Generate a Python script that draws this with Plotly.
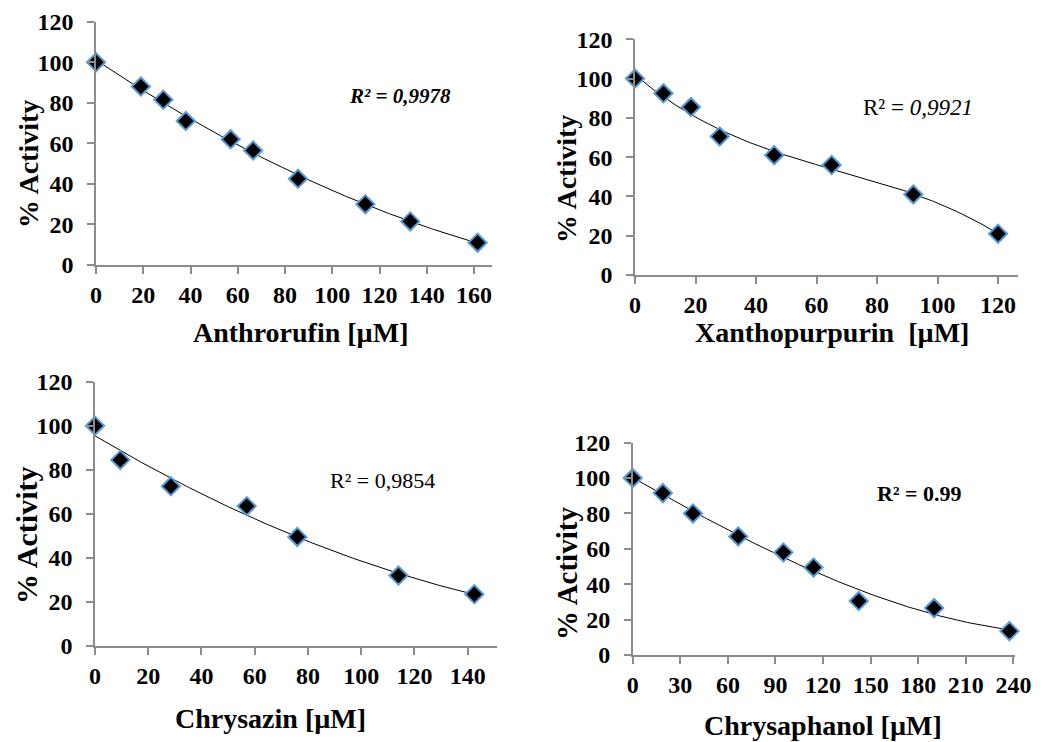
import numpy as np
import plotly.graph_objects as go

# ---- data ----
anthrorufin_x = [0, 19, 28.5, 38, 57, 66.5, 85.5, 114, 133, 161.5]
anthrorufin_y = [100, 88, 81.5, 71, 62, 56.5, 42.5, 30, 21.5, 11]

xanthopurpurin_x = [0, 9.4, 18.5, 28, 46, 65, 92, 120]
xanthopurpurin_y = [100, 92.5, 85.5, 70.5, 61, 56, 41, 21]

chrysazin_x = [0, 9.5, 28.5, 57, 76, 114, 142.5]
chrysazin_y = [100, 84.5, 72.5, 63.5, 49.5, 32, 23.5]

chrysaphanol_x = [0, 19, 38, 66.5, 95, 114, 142.5, 190, 237.5]
chrysaphanol_y = [100, 91.5, 80, 67, 58, 49.5, 30.5, 26.5, 13.5]

panel_names = ["Anthrorufin [µM]", "Xanthopurpurin\u00a0\u00a0[µM]", "Chrysazin [µM]", "Chrysaphanol [µM]"]
r2_labels = ["<b><i>R² = 0,9978</i></b>", "R² = <i>0,9921</i>", "R² = 0,9854", "<b>R² = 0.99</b>"]
x_ticks = [list(range(0, 161, 20)), list(range(0, 121, 20)), list(range(0, 141, 20)), list(range(0, 241, 30))]
y_ticks = list(range(0, 121, 20))
fit_degree = [2, 3, 2, 3]

series = [(anthrorufin_x, anthrorufin_y), (xanthopurpurin_x, xanthopurpurin_y),
          (chrysazin_x, chrysazin_y), (chrysaphanol_x, chrysaphanol_y)]

# ---- layout geometry (pixels in the 1054x742 window) ----
W, H = 1054, 742
OFF = 8  # page body margin offset


def px(x):
    return (x - OFF) / W


def py(y):
    return 1 - (y - OFF) / H


# (x0 px, x1 px, y_bottom px, y_top px, xmax)
geom = [
    (96, 492, 265, 21.7, 167.6),
    (635, 1018, 275, 39.3, 126.6),
    (95, 496.7, 646, 381.7, 150.9),
    (632.7, 1015, 655, 442.7, 241),
]
xtitle_pos = [(301, 333), (832, 333), (270, 718), (823, 725)]
ytitle_pos = [(28, 164, 28), (567, 179, 28), (26, 536, 30), (567, 574, 29)]
r2_pos = [(400, 96, 21), (918, 107, 23), (382, 480, 22), (919, 493, 22)]

FONT = "Liberation Serif"
AXIS_COL = "#8c8c8c"

fig = go.Figure()
annotations = []
for i, ((xs, ys), (x0, x1, yb, yt, xmax)) in enumerate(zip(series, geom)):
    n = i + 1
    xa = "x" if n == 1 else f"x{n}"
    ya = "y" if n == 1 else f"y{n}"
    coef = np.polyfit(xs, ys, fit_degree[i])
    xf = np.linspace(min(xs), max(xs), 200)
    yf = np.polyval(coef, xf)
    fig.add_trace(go.Scatter(x=xf, y=yf, mode="lines", line=dict(color="black", width=1),
                             xaxis=xa, yaxis=ya, showlegend=False, hoverinfo="skip"))
    fig.add_trace(go.Scatter(x=xs, y=ys, mode="markers",
                             marker=dict(symbol="diamond", size=14, color="black",
                                         line=dict(color="#5B9BD5", width=2)),
                             xaxis=xa, yaxis=ya, showlegend=False, cliponaxis=False))
    xkey = "xaxis" if n == 1 else f"xaxis{n}"
    ykey = "yaxis" if n == 1 else f"yaxis{n}"
    fig.update_layout(**{
        xkey: dict(domain=[px(x0), px(x1)], range=[0, xmax], anchor=ya, automargin=False,
                   tickvals=x_ticks[i], ticks="outside", ticklen=7, tickcolor=AXIS_COL,
                   tickwidth=1.5, showline=True, linecolor=AXIS_COL, linewidth=1.5,
                   showgrid=False, zeroline=False, ticklabelstandoff=0,
                   tickfont=dict(family=FONT, size=24, color="black", weight="bold")),
        ykey: dict(domain=[py(yb), py(yt)], range=[0, 120], anchor=xa, automargin=False,
                   tickvals=y_ticks, ticks="outside", ticklen=7, tickcolor=AXIS_COL,
                   tickwidth=1.5, showline=True, linecolor=AXIS_COL, linewidth=1.5,
                   showgrid=False, zeroline=False, ticklabelstandoff=9,
                   tickfont=dict(family=FONT, size=24, color="black", weight="bold")),
    })
    tx, ty = xtitle_pos[i]
    annotations.append(dict(x=px(tx), y=py(ty), xref="paper", yref="paper",
                            text=f"<b>{panel_names[i]}</b>", showarrow=False,
                            xanchor="center", yanchor="middle",
                            font=dict(family=FONT, size=28, color="black")))
    yx, yy, ys_ = ytitle_pos[i]
    annotations.append(dict(x=px(yx), y=py(yy), xref="paper", yref="paper",
                            text="<b>% Activity</b>", showarrow=False, textangle=-90,
                            xanchor="center", yanchor="middle", borderpad=0,
                            font=dict(family=FONT, size=ys_, color="black")))
    rx, ry, rs = r2_pos[i]
    annotations.append(dict(x=px(rx), y=py(ry), xref="paper", yref="paper",
                            text=r2_labels[i], showarrow=False,
                            xanchor="center", yanchor="middle",
                            font=dict(family=FONT, size=rs, color="black")))

fig.update_layout(width=W, height=H, autosize=False,
                  margin=dict(l=0, r=0, t=0, b=0, autoexpand=False),
                  paper_bgcolor="white", plot_bgcolor="white",
                  annotations=annotations)

fig.write_html("out.html")
